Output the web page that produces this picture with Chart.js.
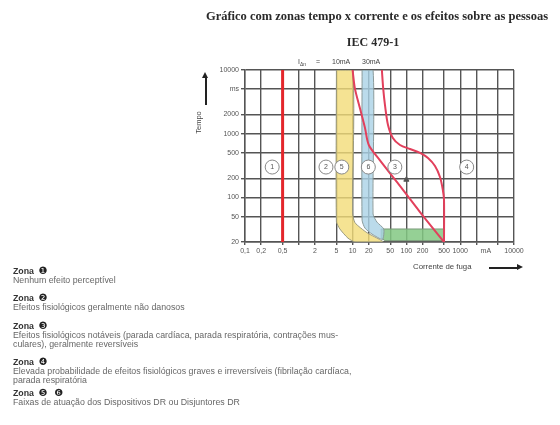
<!DOCTYPE html>
<html lang="pt">
<head>
  <meta charset="UTF-8">
  <title>Gráfico com zonas tempo x corrente</title>
  <script src="https://cdn.jsdelivr.net/npm/chart.js"></script>
  <style>
    body { margin: 0; background: #fff; font-family: "Liberation Sans", Arial, sans-serif; }
    #wrap { position: relative; width: 560px; height: 425px; overflow: hidden; }
    #grafico { position: absolute; left: 0; top: 0; }
    .t { position: absolute; white-space: nowrap; }
    .titulo { font: bold 12.5px "Liberation Serif", serif; color: #2a2a2a; text-align: center; }
    .peq { font-size: 7px; color: #444; }
    .bloco { position: absolute; left: 13px; font-size: 8.8px; line-height: 8.5px; color: #666; white-space: nowrap; }
    .bloco b { color: #333; }
    .bloco .n { font: 10px "DejaVu Sans", sans-serif; color: #222; margin-left: 2px; }
    .seta-v { position: absolute; left: 205px; top: 78px; width: 1.5px; height: 27px; background: #222; }
    .seta-v:before { content: ""; position: absolute; left: -3px; top: -6px; border: 3.5px solid transparent; border-bottom: 6px solid #222; border-top: 0; }
    .seta-h { position: absolute; left: 489px; top: 267px; width: 28px; height: 1.5px; background: #222; }
    .seta-h:after { content: ""; position: absolute; right: -6px; top: -3px; border: 3.5px solid transparent; border-left: 6px solid #222; border-right: 0; }
  </style>
</head>
<body>
<div id="wrap">
  <canvas id="grafico" width="560" height="425"></canvas>

  <div class="t titulo" style="left:190px; width:374px; top:9px;">Gráfico com zonas tempo x corrente e os efeitos sobre as pessoas</div>
  <div class="t titulo" style="left:333px; width:80px; top:35px; font-size:12px;">IEC 479-1</div>

  <div class="t peq" style="left:298px; top:58px;">I<sub style="font-size:5px">Δn</sub></div>
  <div class="t peq" style="left:316px; top:58px;">=</div>
  <div class="t peq" style="left:332px; top:58px;">10mA</div>
  <div class="t peq" style="left:362px; top:58px;">30mA</div>

  <div class="seta-v"></div>
  <div class="t peq" style="left:187px; top:118px; font-size:7.5px; transform:rotate(-90deg); transform-origin:center;">Tempo</div>

  <div class="t peq" style="left:413px; top:262px; font-size:7.8px;">Corrente de fuga</div>
  <div class="seta-h"></div>

  <div class="bloco" style="top:265px;"><b>Zona</b> <span class="n">❶</span><br>Nenhum efeito perceptível</div>
  <div class="bloco" style="top:292px;"><b>Zona</b> <span class="n">❷</span><br>Efeitos fisiológicos geralmente não danosos</div>
  <div class="bloco" style="top:320px;"><b>Zona</b> <span class="n">❸</span><br>Efeitos fisiológicos notáveis (parada cardíaca, parada respiratória, contrações mus-<br>culares), geralmente reversíveis</div>
  <div class="bloco" style="top:356px;"><b>Zona</b> <span class="n">❹</span><br>Elevada probabilidade de efeitos fisiológicos graves e irreversíveis (fibrilação cardíaca,<br>parada respiratória</div>
  <div class="bloco" style="top:387px;"><b>Zona</b> <span class="n">❺</span> &nbsp;<span class="n">❻</span><br>Faixas de atuação dos Dispositivos DR ou Disjuntores DR</div>
</div>

<script>
  // eixos (mA e ms), escala 1-2-5
  const xTicks = [0.1, 0.2, 0.5, 1, 2, 5, 10, 20, 50, 100, 200, 500, 1000, 2000, 3000, 5000, 10000];
  const xLabels = ['0,1', '0,2', '0,5', '', '2', '5', '10', '20', '50', '100', '200', '500', '1000', '', 'mA', '', '10000'];
  const yTicks = [20, 50, 100, 200, 500, 1000, 2000, 5000, 10000];
  const yLabels = ['20', '50', '100', '200', '500', '1000', '2000', 'ms', '10000'];

  // curvas [corrente mA, tempo ms]
  const curvaA = [[0.5, 20], [0.5, 10000]];
  const curvaB = [[10, 10000], [11, 5200], [13.7, 2500], [17, 1230], [20, 665], [32, 386], [67, 174], [179, 59], [500, 20]];
  const curvaC = [[35, 10000], [37, 5200], [40, 2800], [45.5, 1370], [56, 856], [76, 665], [117, 575], [179, 500],
                  [252, 416], [340, 311], [421, 209], [476, 131], [500, 91], [500, 20]];

  // faixas dos dispositivos DR
  const faixa10 = [[5, 10000], [10, 10000], [10, 57], [11.1, 40], [18.5, 28], [37, 20], [11.1, 20], [8.2, 23], [5.8, 32], [5, 42], [5, 10000]];
  const faixa30 = [[15, 10000], [24, 10000], [24, 55], [28.4, 41], [38, 32], [36, 22], [23, 26.6], [17, 33], [15, 44], [15, 10000]];
  const faixa30b = [[34, 32], [500, 32], [500, 21], [40, 21], [34, 23], [34, 32]];

  // zonas numeradas
  const zonaX = [0.32, 3.2, 6.3, 19.6, 61, 1320];
  const zonaY = [300, 300, 300, 300, 300, 300];
  const zonaNum = ['1', '2', '5', '6', '3', '4'];
  const cursor = [[100, 190]];

  const pts = arr => arr.map(p => ({ x: p[0], y: p[1] }));
  const corGrade = '#555';
  const fonteTick = { size: 7, family: '"Liberation Sans", Arial' };

  // escreve os números dentro dos círculos
  const numeros = {
    id: 'numeros',
    afterDatasetsDraw(chart) {
      const meta = chart.getDatasetMeta(chart.data.datasets.findIndex(d => d.label === 'zonas'));
      const ctx = chart.ctx;
      ctx.save();
      ctx.font = '7px "Liberation Sans", Arial';
      ctx.fillStyle = '#555';
      ctx.textAlign = 'center';
      ctx.textBaseline = 'middle';
      meta.data.forEach((p, i) => ctx.fillText(zonaNum[i], p.x, p.y + 0.5));
      ctx.restore();
    }
  };

  const eixo = (ticks, labels, min, max, fit, tickLen) => ({
    type: 'logarithmic',
    min: min,
    max: max,
    afterBuildTicks: s => { s.ticks = ticks.map(v => ({ value: v })); },
    afterFit: fit,
    ticks: {
      autoSkip: false,
      maxRotation: 0,
      padding: 2,
      color: '#555',
      font: fonteTick,
      callback: (v, i) => labels[i]
    },
    grid: {
      color: c => (c.tick && c.tick.value === 3000) ? 'rgba(0,0,0,0)' : corGrade,
      lineWidth: 1.4,
      tickLength: tickLen
    },
    border: { color: corGrade, width: 1.4 }
  });

  new Chart(document.getElementById('grafico'), {
    type: 'scatter',
    data: {
      datasets: [
        { label: 'zonas', data: zonaX.map((x, i) => ({ x: x, y: zonaY[i] })), pointRadius: 7,
          pointBackgroundColor: '#fff', pointBorderColor: '#888', pointBorderWidth: 1, order: 1 },
        { label: 'cursor', data: pts(cursor), pointStyle: 'triangle', pointRadius: 3,
          pointBackgroundColor: '#555', pointBorderColor: '#555', order: 1 },
        { label: 'a', data: pts(curvaA), showLine: true, borderColor: '#e3262b', borderWidth: 3, pointRadius: 0, order: 2 },
        { label: 'b', data: pts(curvaB), showLine: true, borderColor: '#e2405c', borderWidth: 2, pointRadius: 0, tension: 0.3, order: 2 },
        { label: 'c', data: pts(curvaC), showLine: true, borderColor: '#e2405c', borderWidth: 2, pointRadius: 0, tension: 0.3, order: 2 },
        { label: '10mA', data: pts(faixa10), showLine: true, fill: 'shape', backgroundColor: 'rgba(243,220,120,0.8)',
          borderColor: '#9a9a80', borderWidth: 1, pointRadius: 0, tension: 0.2, order: 4 },
        { label: '30mA', data: pts(faixa30), showLine: true, fill: 'shape', backgroundColor: 'rgba(170,210,230,0.8)',
          borderColor: '#8a9a9a', borderWidth: 1, pointRadius: 0, tension: 0.2, order: 4 },
        { label: '30mA-b', data: pts(faixa30b), showLine: true, fill: 'shape', backgroundColor: 'rgba(130,200,130,0.85)',
          borderColor: '#7a9a7a', borderWidth: 1, pointRadius: 0, order: 5 }
      ]
    },
    options: {
      responsive: false,
      animation: false,
      layout: { padding: { left: 200, right: 46, top: 70, bottom: 163 } },
      plugins: { legend: { display: false }, tooltip: { enabled: false } },
      scales: {
        x: eixo(xTicks, xLabels, 0.1, 10000, s => { s.height = 20; }, 3),
        y: eixo(yTicks, yLabels, 20, 10000, s => { s.width = 45; }, 4)
      }
    },
    plugins: [numeros]
  });
</script>
</body>
</html>
